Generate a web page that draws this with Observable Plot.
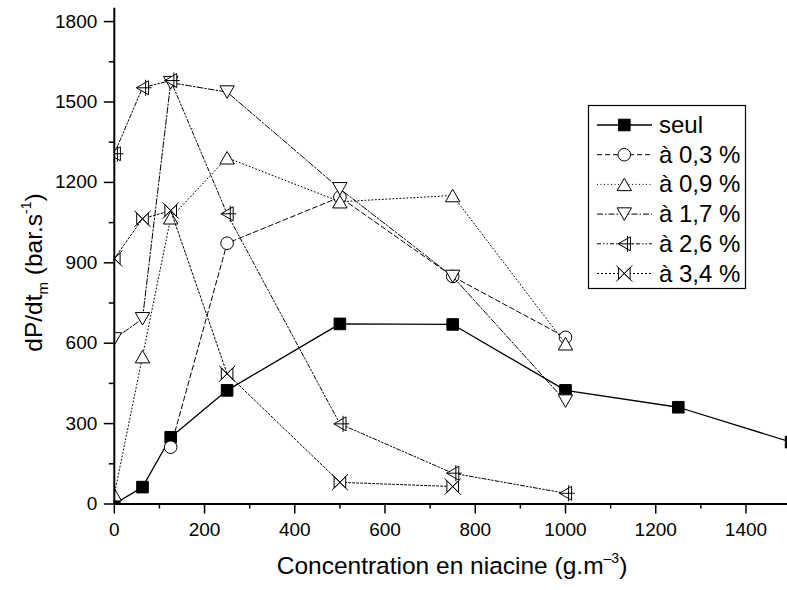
<!DOCTYPE html>
<html><head><meta charset="utf-8">
<script src="https://cdn.jsdelivr.net/npm/d3@7"></script>
<script src="https://cdn.jsdelivr.net/npm/@observablehq/plot@0.6"></script>
<style>
html,body{margin:0;padding:0;background:#fff;overflow:hidden;width:787px;height:590px;}
#chart{position:relative;width:800px;height:590px;}
svg{display:block;}
</style></head><body><div id="chart"></div>
<script>
// ---- data ----
const seriesNames = ["seul", "à 0,3 %", "à 0,9 %", "à 1,7 %", "à 2,6 %", "à 3,4 %"];
const xSeul = [0, 62.5, 125, 250, 500, 750, 1000, 1250, 1500];
const ySeul = [0, 63, 249, 424, 672, 670, 424, 361, 231];
const x03 = [125, 250, 500, 750, 1000];
const y03 = [212, 973, 1145, 849, 622];
const x09 = [0, 62.5, 125, 250, 500, 750, 1000];
const y09 = [35, 550, 1068, 1292, 1128, 1151, 598];
const x17 = [0, 62.5, 125, 250, 500, 750, 1000];
const y17 = [616, 691, 1572, 1537, 1176, 849, 384];
const x26 = [0, 62.5, 125, 250, 500, 750, 1000];
const y26 = [1307, 1553, 1580, 1083, 299, 115, 40];
const x34 = [0, 62.5, 125, 250, 500, 750];
const y34 = [916, 1064, 1095, 486, 81, 65];

const xTicks = [0, 200, 400, 600, 800, 1000, 1200, 1400];
const xMinorTicks = [100, 300, 500, 700, 900, 1100, 1300, 1500];
const yTicks = [0, 300, 600, 900, 1200, 1500, 1800];
const yMinorTicks = [150, 450, 750, 1050, 1350, 1650];

const xTitle = ["Concentration en niacine (g.m", "–3", ")"];
const yTitle = ["dP/dt", "m", " (bar.s", "-1", ")"];

// ---- marker shapes ----
function sym(fn) { return {draw(c, size) { fn(c, Math.sqrt(size / Math.PI)); }}; }
const symSquare = sym((c, r) => { c.rect(-r, -r, 2 * r, 2 * r); });
const symCircle = sym((c, r) => { c.moveTo(r, 0); c.arc(0, 0, r, 0, 2 * Math.PI); });
const symUp = sym((c, r) => { const h = r * 0.87; c.moveTo(0, -h); c.lineTo(r, h); c.lineTo(-r, h); c.closePath(); });
const symDown = sym((c, r) => { const h = r * 0.87; c.moveTo(0, h); c.lineTo(r, -h); c.lineTo(-r, -h); c.closePath(); });
const symLeftPlus = sym((c, r) => {
  const h = r * 0.87;
  c.moveTo(-h, 0); c.lineTo(h, -r); c.lineTo(h, r); c.closePath();
  c.moveTo(-h, 0); c.lineTo(r * 1.3, 0);
  c.moveTo(r * 0.45, -r * 1.15); c.lineTo(r * 0.45, r * 1.15);
});
const symBowX = sym((c, r) => {
  const R = r * 1.4;
  c.moveTo(-r, -r); c.lineTo(r, r); c.lineTo(r, -r); c.lineTo(-r, r); c.closePath();
  c.moveTo(-R, -R); c.lineTo(R, R); c.moveTo(R, -R); c.lineTo(-R, R);
});

const seriesX = [xSeul, x03, x09, x17, x26, x34];
const seriesY = [ySeul, y03, y09, y17, y26, y34];
const styles = [
  {dash: null, sym: symSquare, r: 5.8, fill: "black", lw: 1.3},
  {dash: "5,3", sym: symCircle, r: 6.3, fill: "white", lw: 1},
  {dash: "1,2.5", sym: symUp, r: 7.2, fill: "white", lw: 1},
  {dash: "6,2,1.5,2", sym: symDown, r: 7.2, fill: "white", lw: 1},
  {dash: "4,2,1.5,2,1.5,2", sym: symLeftPlus, r: 7, fill: "white", lw: 1},
  {dash: "2,2", sym: symBowX, r: 5.8, fill: "white", lw: 1}
];
const series = seriesNames.map((name, i) => ({
  name, ...styles[i],
  rows: seriesX[i].map((x, j) => ({x, y: seriesY[i][j]}))
}));

const fmt = d => String(d);
const marks = [];
for (const s of series) {
  marks.push(Plot.line(s.rows, {x: "x", y: "y", stroke: "black", strokeWidth: s.lw, strokeDasharray: s.dash ?? undefined, clip: true}));
  marks.push(Plot.dot(s.rows, {x: "x", y: "y", symbol: s.sym, r: s.r, fill: s.fill, stroke: "black", strokeWidth: 1, clip: true}));
}
marks.push(
  Plot.axisX({ticks: xMinorTicks, tickSize: 5, tickFormat: () => "", label: null, strokeWidth: 1.5}),
  Plot.axisX({ticks: xTicks, tickSize: 10, tickPadding: 8, tickFormat: fmt, label: null, strokeWidth: 1.5}),
  Plot.axisY({ticks: yMinorTicks, tickSize: 5, tickFormat: () => "", label: null, strokeWidth: 1.5}),
  Plot.axisY({ticks: yTicks, tickSize: 10, tickPadding: 7, tickFormat: fmt, label: null, strokeWidth: 1.5}),
  Plot.ruleY([0], {stroke: "black", strokeWidth: 2}),
  Plot.ruleX([0], {stroke: "black", strokeWidth: 2})
);

const chart = Plot.plot({
  width: 800, height: 590,
  marginLeft: 113.8, marginRight: 9.4, marginTop: 7.7, marginBottom: 86.5,
  x: {domain: [0, 1500]},
  y: {domain: [0, 1850]},
  style: {fontFamily: "'Liberation Sans', Arial, sans-serif", fontSize: "19px", background: "white", color: "black"},
  marks
});
document.getElementById("chart").appendChild(chart);

// ---- titles and legend ----
const svg = d3.select(chart);
const FF = "'Liberation Sans', Arial, sans-serif";
const xt = svg.append("text").attr("x", 452).attr("y", 574).attr("text-anchor", "middle")
  .attr("font-family", FF).attr("font-size", 24.5).attr("fill", "black");
xt.append("tspan").text(xTitle[0]);
xt.append("tspan").attr("dy", -11).attr("font-size", 14).text(xTitle[1]);
xt.append("tspan").attr("dy", 11).text(xTitle[2]);

const yt = svg.append("text").attr("transform", "translate(41.5,272.5) rotate(-90)").attr("text-anchor", "middle")
  .attr("font-family", FF).attr("font-size", 24.5).attr("fill", "black");
yt.append("tspan").text(yTitle[0]);
yt.append("tspan").attr("dy", 6).attr("font-size", 15).text(yTitle[1]);
yt.append("tspan").attr("dy", -6).text(yTitle[2]);
yt.append("tspan").attr("dy", -11).attr("font-size", 14).text(yTitle[3]);
yt.append("tspan").attr("dy", 11).text(yTitle[4]);

const lg = svg.append("g");
lg.append("rect").attr("x", 588.5).attr("y", 105.5).attr("width", 157).attr("height", 183)
  .attr("fill", "white").attr("stroke", "black").attr("stroke-width", 1.2);
series.forEach((s, i) => {
  const cy = 125 + i * 29.7;
  lg.append("line").attr("x1", 597).attr("x2", 652).attr("y1", cy).attr("y2", cy)
    .attr("stroke", "black").attr("stroke-width", s.lw).attr("stroke-dasharray", s.dash);
  lg.append("path").attr("transform", `translate(624.3,${cy})`)
    .attr("d", d3.symbol(s.sym, Math.PI * s.r * s.r)())
    .attr("fill", s.fill).attr("stroke", "black").attr("stroke-width", 1);
  lg.append("text").attr("x", 659).attr("y", cy + 8).attr("text-anchor", "start")
    .attr("font-family", FF).attr("font-size", 24)
    .attr("fill", "black").text(s.name);
});
</script>
</body></html>
